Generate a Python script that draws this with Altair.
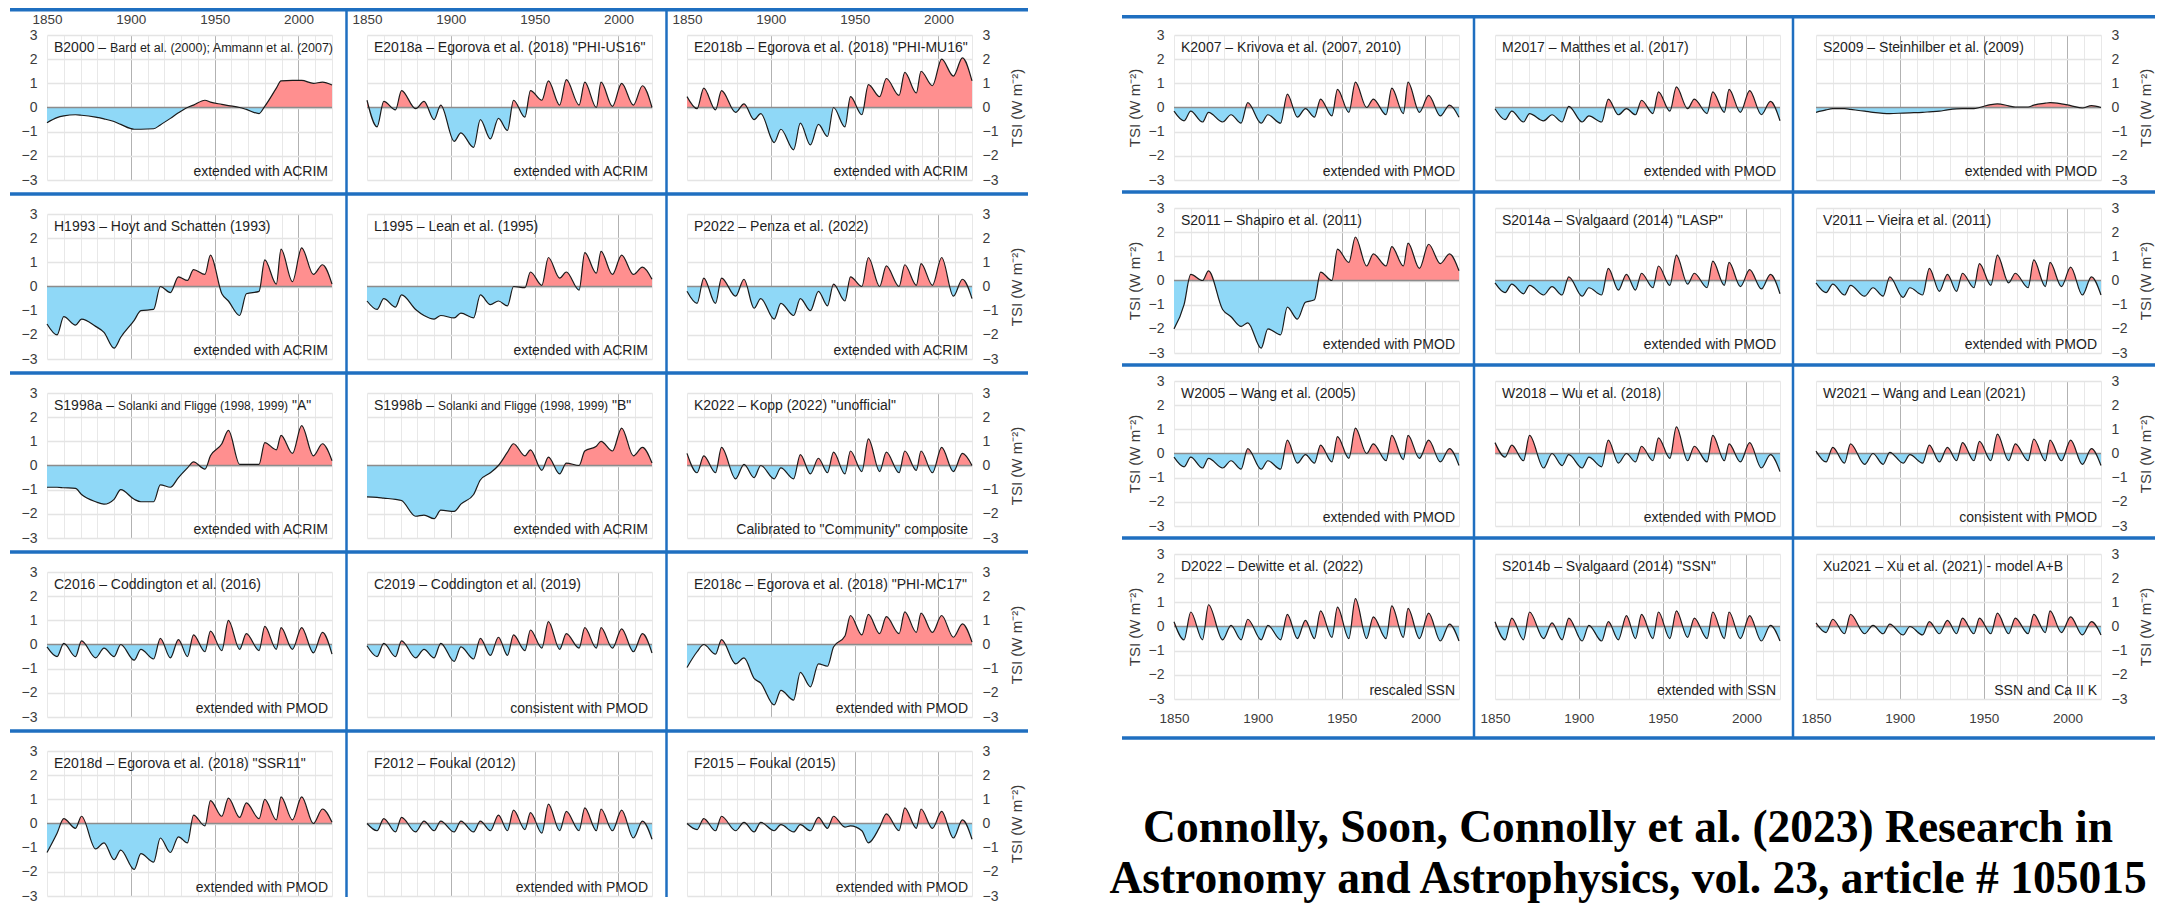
import altair as alt
import pandas as pd

# ---------------- data (TSI anomaly, W m-2, read at solar-cycle minima / maxima) ----------------
YEARS = [1850, 1856, 1860, 1867, 1870.6, 1879, 1884, 1890,
         1894, 1902, 1906, 1913.6, 1917.6, 1923.6, 1928.4, 1933.8,
         1937.4, 1944.2, 1947.5, 1954.3, 1958.2, 1964.9, 1968.9, 1976.5,
         1979.9, 1986.8, 1989.6, 1996.4, 2001.9, 2008.9, 2014.3, 2020]
X_TICKS = [1850, 1860, 1870, 1880, 1890, 1900, 1910, 1920, 1930, 1940,
           1950, 1960, 1970, 1980, 1990, 2000, 2010, 2020]
Y_TICKS = [-3, -2, -1, 0, 1, 2, 3]

B2000 = [-0.63, -0.42, -0.35, -0.3, -0.32, -0.4, -0.47, -0.58,
         -0.7, -0.9, -0.9, -0.88, -0.72, -0.45, -0.22, 0.0,
         0.1, 0.3, 0.22, 0.13, 0.08, 0.0, -0.08, -0.25,
         0.05, 0.8, 1.1, 1.12, 1.12, 1.0, 1.05, 0.93]
E2018a = [0.3, -0.8, 0.25, -0.1, 0.7, -0.05, 0.25, -0.5,
          0.1, -1.4, -1.05, -1.65, -0.5, -1.3, -0.45, -0.95,
          0.3, -0.4, 0.7, 0.3, 1.1, 0.1, 1.15, 0.1,
          1.05, 0.0, 1.05, 0.05, 1.0, 0.1, 0.9, 0.0]
E2018b = [0.45, -0.05, 0.8, -0.1, 0.7, -0.2, 0.15, -0.5,
          -0.25, -1.45, -0.9, -1.75, -0.65, -1.55, -0.7, -1.2,
          0.0, -0.8, 0.45, -0.3, 0.95, 0.45, 1.2, 0.5,
          1.45, 0.6, 1.5, 0.9, 2.0, 1.3, 2.05, 1.1]
H1993 = [-1.55, -2.0, -1.25, -1.6, -1.35, -1.65, -1.9, -2.55,
         -2.1, -1.4, -1.0, -0.95, 0.0, -0.25, 0.4, 0.25,
         0.7, 0.5, 1.3, -0.3, -0.6, -1.2, -0.3, -0.2,
         1.1, 0.1, 1.55, 0.2, 1.6, 0.5, 0.9, 0.1]
L1995 = [-0.6, -0.95, -0.5, -0.85, -0.35, -0.95, -1.2, -1.35,
         -1.2, -1.3, -1.1, -1.3, -0.35, -0.75, -0.6, -0.8,
         0.0, -0.05, 0.6, 0.05, 1.2, 0.35, 0.6, -0.15,
         1.4, 0.55, 1.45, 0.5, 1.3, 0.5, 0.8, 0.3]
P2022 = [-0.2, -0.7, 0.35, -0.7, 0.35, -0.4, 0.3, -0.9,
         -0.5, -1.35, -0.7, -1.2, -0.5, -1.0, -0.2, -0.8,
         0.1, -0.6, 0.4, 0.0, 1.2, 0.0, 0.85, 0.0,
         0.9, 0.05, 0.95, 0.05, 1.2, -0.4, 0.3, -0.5]
S1998a = [-0.9, -0.9, -0.92, -0.95, -1.2, -1.5, -1.6, -1.4,
          -1.0, -1.4, -1.5, -1.5, -0.8, -0.9, -0.5, -0.1,
          0.15, -0.15, 0.4, 0.9, 1.45, 0.05, 0.05, 0.05,
          0.95, 0.65, 1.25, 0.5, 1.65, 0.4, 0.9, 0.2]
S1998b = [-1.3, -1.32, -1.35, -1.4, -1.45, -2.1, -2.05, -2.2,
          -1.85, -1.9, -1.6, -1.2, -0.6, -0.3, 0.0, 0.55,
          0.9, 0.4, 0.65, -0.2, 0.35, -0.35, 0.1, 0.0,
          0.6, 0.8, 1.0, 0.6, 1.55, 0.4, 0.75, 0.1]
K2022 = [0.5, -0.3, 0.4, -0.3, 0.75, -0.55, 0.05, -0.5,
         0.0, -0.55, -0.1, -0.55, 0.45, -0.35, 0.3, -0.3,
         0.55, -0.35, 0.6, -0.25, 1.1, -0.25, 0.55, -0.3,
         0.6, -0.2, 0.6, -0.3, 0.75, -0.25, 0.5, 0.0]
C2016 = [-0.1, -0.5, 0.05, -0.5, 0.15, -0.55, -0.15, -0.5,
         0.0, -0.65, -0.2, -0.6, 0.25, -0.55, 0.2, -0.5,
         0.4, -0.3, 0.55, -0.25, 1.0, -0.2, 0.45, -0.25,
         0.75, -0.2, 0.7, -0.2, 0.7, -0.35, 0.5, -0.4]
C2019 = [-0.05, -0.5, 0.05, -0.5, 0.15, -0.55, -0.2, -0.55,
         0.05, -0.7, -0.1, -0.6, 0.25, -0.45, 0.3, -0.45,
         0.4, -0.25, 0.6, -0.15, 0.95, -0.2, 0.45, -0.15,
         0.7, -0.15, 0.7, -0.15, 0.65, -0.3, 0.45, -0.35]
E2018c = [-0.95, -0.3, 0.0, -0.4, 0.2, -0.8, -0.55, -1.4,
          -1.6, -2.5, -1.9, -2.3, -1.15, -1.75, -0.8, -0.9,
          -0.1, 0.35, 1.2, 0.4, 1.25, 0.45, 1.15, 0.45,
          1.35, 0.5, 1.3, 0.5, 1.2, 0.3, 0.85, 0.1]
E2018d = [-1.2, -0.4, 0.2, -0.2, 0.3, -1.05, -0.8, -1.5,
          -1.1, -1.9, -1.25, -1.6, -0.6, -1.2, -0.55, -0.8,
          0.35, -0.1, 0.95, 0.3, 1.05, 0.25, 0.85, 0.2,
          1.0, 0.15, 1.1, 0.15, 1.1, 0.0, 0.6, 0.05]
F2012 = [0.0, -0.3, 0.2, -0.35, 0.25, -0.35, 0.1, -0.3,
         0.1, -0.35, 0.1, -0.35, 0.1, -0.3, 0.35, -0.3,
         0.55, -0.25, 0.45, -0.4, 0.8, -0.3, 0.5, -0.3,
         0.65, -0.3, 0.6, -0.3, 0.55, -0.6, 0.1, -0.65]
F2015 = [0.0, -0.25, 0.2, -0.3, 0.3, -0.3, 0.05, -0.35,
         0.05, -0.3, -0.05, -0.35, -0.05, -0.3, 0.25, -0.2,
         0.3, -0.15, -0.1, -0.3, -0.8, -0.15, 0.4, -0.3,
         0.65, -0.2, 0.6, -0.2, 0.5, -0.6, 0.15, -0.65]
K2007 = [-0.15, -0.55, -0.15, -0.6, -0.2, -0.6, -0.3, -0.65,
         0.2, -0.65, -0.3, -0.65, 0.55, -0.4, -0.05, -0.4,
         0.35, -0.35, 0.75, -0.2, 1.05, 0.0, 0.35, -0.3,
         0.8, -0.25, 1.05, -0.2, 0.5, -0.35, 0.1, -0.4]
M2017 = [-0.05, -0.5, -0.15, -0.6, -0.25, -0.55, -0.3, -0.6,
         0.05, -0.6, -0.35, -0.6, 0.35, -0.3, -0.05, -0.3,
         0.3, -0.25, 0.65, -0.15, 0.85, -0.05, 0.35, -0.25,
         0.65, -0.2, 0.75, -0.2, 0.7, -0.3, 0.25, -0.55]
S2009 = [-0.2, -0.1, -0.05, -0.05, -0.08, -0.15, -0.2, -0.24,
         -0.25, -0.23, -0.22, -0.2, -0.18, -0.15, -0.1, -0.06,
         -0.05, -0.05, 0.0, 0.12, 0.15, 0.07, 0.02, 0.02,
         0.1, 0.18, 0.2, 0.15, 0.08, -0.02, 0.08, 0.0]
S2011 = [-2.0, -1.0, 0.25, 0.0, 0.4, -1.2, -1.5, -1.9,
         -1.75, -2.8, -2.0, -2.25, -1.1, -1.6, -0.9, -0.8,
         0.35, 0.0, 1.3, 0.75, 1.8, 0.6, 1.1, 0.6,
         1.4, 0.6, 1.55, 0.5, 1.5, 0.7, 1.1, 0.4]
S2014a = [-0.1, -0.5, -0.15, -0.55, -0.2, -0.6, -0.25, -0.6,
          0.15, -0.65, -0.3, -0.6, 0.5, -0.4, 0.25, -0.4,
          0.3, -0.3, 0.6, -0.2, 1.05, -0.15, 0.3, -0.3,
          0.8, -0.2, 0.75, -0.25, 0.45, -0.35, 0.25, -0.55]
V2011 = [-0.1, -0.5, -0.15, -0.6, -0.2, -0.65, -0.3, -0.65,
         0.15, -0.7, -0.3, -0.6, 0.5, -0.45, 0.25, -0.45,
         0.3, -0.3, 0.7, -0.2, 1.05, -0.1, 0.3, -0.3,
         0.85, -0.25, 0.75, -0.25, 0.55, -0.6, 0.15, -0.6]
W2005 = [-0.15, -0.55, -0.15, -0.6, -0.2, -0.6, -0.3, -0.65,
         0.2, -0.65, -0.3, -0.65, 0.55, -0.4, -0.05, -0.4,
         0.35, -0.35, 0.7, -0.2, 1.05, 0.0, 0.4, -0.3,
         0.75, -0.25, 0.75, -0.2, 0.55, -0.35, 0.2, -0.5]
W2018 = [0.45, -0.15, 0.35, -0.3, 0.75, -0.6, 0.0, -0.5,
         -0.05, -0.6, -0.15, -0.55, 0.55, -0.4, 0.0, -0.35,
         0.3, -0.3, 0.65, -0.2, 1.1, -0.3, 0.3, -0.35,
         0.75, -0.3, 0.4, -0.35, 0.45, -0.6, -0.05, -0.75]
W2021 = [0.1, -0.35, 0.25, -0.4, 0.4, -0.45, 0.0, -0.45,
         0.05, -0.4, -0.05, -0.4, 0.35, -0.35, 0.25, -0.3,
         0.45, -0.3, 0.5, -0.3, 0.8, -0.3, 0.4, -0.3,
         0.6, -0.3, 0.55, -0.3, 0.55, -0.45, 0.2, -0.5]
D2022 = [0.2, -0.55, 0.6, -0.55, 0.9, -0.55, 0.05, -0.55,
         0.3, -0.55, 0.05, -0.55, 0.5, -0.5, 0.25, -0.5,
         0.65, -0.45, 0.8, -0.5, 1.15, -0.5, 0.4, -0.5,
         0.85, -0.45, 0.75, -0.5, 0.55, -0.6, 0.1, -0.6]
S2014b = [0.2, -0.55, 0.35, -0.55, 0.6, -0.5, 0.15, -0.55,
          0.35, -0.6, 0.05, -0.6, 0.2, -0.55, 0.45, -0.5,
          0.5, -0.5, 0.6, -0.5, 0.65, -0.45, 0.35, -0.5,
          0.6, -0.5, 0.6, -0.5, 0.45, -0.6, 0.05, -0.6]
Xu2021 = [0.15, -0.25, 0.3, -0.3, 0.5, -0.3, 0.05, -0.3,
          0.1, -0.35, 0.0, -0.35, 0.2, -0.3, 0.25, -0.3,
          0.35, -0.3, 0.35, -0.3, 0.55, -0.3, 0.35, -0.3,
          0.5, -0.25, 0.65, -0.25, 0.4, -0.35, 0.2, -0.35]

SERIES = {
    "B2000": B2000, "E2018a": E2018a, "E2018b": E2018b, "H1993": H1993, "L1995": L1995,
    "P2022": P2022, "S1998a": S1998a, "S1998b": S1998b, "K2022": K2022, "C2016": C2016,
    "C2019": C2019, "E2018c": E2018c, "E2018d": E2018d, "F2012": F2012, "F2015": F2015,
    "K2007": K2007, "M2017": M2017, "S2009": S2009, "S2011": S2011, "S2014a": S2014a,
    "V2011": V2011, "W2005": W2005, "W2018": W2018, "W2021": W2021, "D2022": D2022,
    "S2014b": S2014b, "Xu2021": Xu2021,
}

D = "\u2013"
# (series, title pieces (text, font size, x shift), footer)
LEFT_PANELS = [
    ("B2000", [(f"B2000 {D} ", 14, 0), ("Bard et al. (2000); Ammann et al. (2007)", 12.5, 56)], "extended with ACRIM"),
    ("E2018a", [(f"E2018a {D} Egorova et al. (2018) \"PHI-US16\"", 14, 0)], "extended with ACRIM"),
    ("E2018b", [(f"E2018b {D} Egorova et al. (2018) \"PHI-MU16\"", 14, 0)], "extended with ACRIM"),
    ("H1993", [(f"H1993 {D} Hoyt and Schatten (1993)", 14, 0)], "extended with ACRIM"),
    ("L1995", [(f"L1995 {D} Lean et al. (1995)", 14, 0)], "extended with ACRIM"),
    ("P2022", [(f"P2022 {D} Penza et al. (2022)", 14, 0)], "extended with ACRIM"),
    ("S1998a", [(f"S1998a {D} ", 14, 0), ("Solanki and Fligge (1998, 1999)", 12, 64), ("\"A\"", 14, 238)], "extended with ACRIM"),
    ("S1998b", [(f"S1998b {D} ", 14, 0), ("Solanki and Fligge (1998, 1999)", 12, 64), ("\"B\"", 14, 238)], "extended with ACRIM"),
    ("K2022", [(f"K2022 {D} Kopp (2022) \"unofficial\"", 14, 0)], "Calibrated to \"Community\" composite"),
    ("C2016", [(f"C2016 {D} Coddington et al. (2016)", 14, 0)], "extended with PMOD"),
    ("C2019", [(f"C2019 {D} Coddington et al. (2019)", 14, 0)], "consistent with PMOD"),
    ("E2018c", [(f"E2018c {D} Egorova et al. (2018) \"PHI-MC17\"", 14, 0)], "extended with PMOD"),
    ("E2018d", [(f"E2018d {D} Egorova et al. (2018) \"SSR11\"", 14, 0)], "extended with PMOD"),
    ("F2012", [(f"F2012 {D} Foukal (2012)", 14, 0)], "extended with PMOD"),
    ("F2015", [(f"F2015 {D} Foukal (2015)", 14, 0)], "extended with PMOD"),
]
RIGHT_PANELS = [
    ("K2007", [(f"K2007 {D} Krivova et al. (2007, 2010)", 14, 0)], "extended with PMOD"),
    ("M2017", [(f"M2017 {D} Matthes et al. (2017)", 14, 0)], "extended with PMOD"),
    ("S2009", [(f"S2009 {D} Steinhilber et al. (2009)", 14, 0)], "extended with PMOD"),
    ("S2011", [(f"S2011 {D} Shapiro et al. (2011)", 14, 0)], "extended with PMOD"),
    ("S2014a", [(f"S2014a {D} Svalgaard (2014) \"LASP\"", 14, 0)], "extended with PMOD"),
    ("V2011", [(f"V2011 {D} Vieira et al. (2011)", 14, 0)], "extended with PMOD"),
    ("W2005", [(f"W2005 {D} Wang et al. (2005)", 14, 0)], "extended with PMOD"),
    ("W2018", [(f"W2018 {D} Wu et al. (2018)", 14, 0)], "extended with PMOD"),
    ("W2021", [(f"W2021 {D} Wang and Lean (2021)", 14, 0)], "consistent with PMOD"),
    ("D2022", [(f"D2022 {D} Dewitte et al. (2022)", 14, 0)], "rescaled SSN"),
    ("S2014b", [(f"S2014b {D} Svalgaard (2014) \"SSN\"", 14, 0)], "extended with SSN"),
    ("Xu2021", [(f"Xu2021 {D} Xu et al. (2021) - model A+B", 14, 0)], "SSN and Ca II K"),
]
CITATION = ["Connolly, Soon, Connolly et al. (2023) Research in",
            "Astronomy and Astrophysics, vol. 23, article # 105015"]
Y_TITLE = "TSI (W m\u207b\u00b2)"

# ---------------- style ----------------
W, H = 285, 145
FONT = "Liberation Sans, Arial, Helvetica, sans-serif"
SERIF = "Liberation Serif, Times New Roman, serif"
RED = "#ff8f8f"
BLUE = "#8fd8f7"
SEP = "#1f6fc0"
LINE_COL = "#1a1a1a"
ZERO_COL = "#8c8c8c"
TXT = "#1e1e1e"
LAB = "#3c3c3c"
GRID_X = {"condition": {"test": "datum.value == 1900 || datum.value == 1950 || datum.value == 2000",
                        "value": "#b2b2b2"}, "value": "#e8e8e8"}

ONE = pd.DataFrame({"k": [0]})
ZERO_ROW = pd.DataFrame({"z": [0.0]})


def x_axis(block, r):
    show = (block == "L" and r == 0) or (block == "R" and r == 3)
    kw = dict(values=X_TICKS, grid=True, gridColor=GRID_X, gridWidth=1, domain=False,
              ticks=False, tickSize=0, title=None, labels=show,
              orient="top" if block == "L" else "bottom")
    if show:
        kw.update(labelExpr="datum.value % 50 == 0 ? datum.label : ''", format="d",
                  labelFont=FONT, labelFontSize=13.5, labelColor=LAB,
                  labelPadding=9 if block == "L" else 12, labelFlush=False, labelOverlap=False)
    return alt.Axis(**kw)


def y_axis(block, c):
    kw = dict(values=Y_TICKS, grid=True, gridColor="#e4e4e4", gridWidth=1.5, domain=False,
              ticks=False, tickSize=0)
    if c == 1:
        kw.update(labels=False, title=None)
    else:
        kw.update(orient="left" if c == 0 else "right", labels=True, format="d",
                  labelFont=FONT, labelFontSize=14, labelColor=LAB, labelPadding=10,
                  labelFlush=False, labelOverlap=False)
        if block == "R" or c == 2:
            kw.update(title=Y_TITLE, titleFont=FONT, titleFontSize=15, titleFontWeight="normal",
                      titleColor=LAB, titleAngle=270, titleX=-40 if c == 0 else 44,
                      titleY=H / 2, titleAlign="center", titleBaseline="middle")
        else:
            kw.update(title=None)
    return alt.Axis(**kw)


def separators(block, r, c):
    segs = []
    if block == "L":
        ytop = -25.25 if r == 0 else -20
        if c == 0:
            segs.append((-37, 981, ytop, ytop, 3.5))
        if c in (0, 1):
            ybot = 159 if r < 4 else 146
            segs.append((W + 14.5, W + 14.5, ytop, ybot, 2.5))
    else:
        ytop = -18.25 if r == 0 else -16
        if c == 0:
            segs.append((-52, 981, ytop, ytop, 3.5))
            if r == 3:
                segs.append((-52, 981, 184, 184, 3.5))
        if c in (0, 1):
            x = W + 15 if c == 0 else W + 13
            ybot = 157 if r < 3 else 184
            segs.append((x, x, ytop, ybot, 2.5))
    return segs


def make_panel(key, parts, footer, block, r, c):
    vals = SERIES[key]
    df = pd.DataFrame({"year": YEARS, "tsi": vals, "z": [0.0] * len(YEARS)})
    hi = max(max(vals), 0.0)
    lo = min(min(vals), 0.0)
    t = hi / (hi - lo) if hi > lo else 1.0
    grad = alt.LinearGradient(
        gradient="linear", x1=0, x2=0, y1=0, y2=1,
        stops=[alt.GradientStop(color=RED, offset=0), alt.GradientStop(color=RED, offset=t),
               alt.GradientStop(color=BLUE, offset=t), alt.GradientStop(color=BLUE, offset=1)])
    xs = alt.Scale(domain=[1850, 2020], nice=False, zero=False)
    ys = alt.Scale(domain=[-3, 3], nice=False, zero=False)
    xa = x_axis(block, r)
    ya = y_axis(block, c)
    X = alt.X("year:Q", scale=xs, axis=xa)
    Y = alt.Y("tsi:Q", scale=ys, axis=ya)

    layers = [
        alt.Chart(df).mark_area(color=grad, interpolate="monotone").encode(x=X, y=Y, y2=alt.Y2("z:Q")),
        alt.Chart(ZERO_ROW).mark_rule(color=ZERO_COL, strokeWidth=1.6).encode(
            y=alt.Y("z:Q", scale=ys, axis=ya)),
        alt.Chart(df).mark_line(color=LINE_COL, strokeWidth=1.2, interpolate="monotone").encode(x=X, y=Y),
    ]
    for text, size, dx in parts:
        layers.append(alt.Chart(ONE).mark_text(
            text=text, font=FONT, fontSize=size, color=TXT, align="left", baseline="alphabetic"
        ).encode(x=alt.value(7 + dx), y=alt.value(17)))
    layers.append(alt.Chart(ONE).mark_text(
        text=footer, font=FONT, fontSize=14, color=TXT, align="right", baseline="alphabetic"
    ).encode(x=alt.value(W - 4), y=alt.value(H - 4)))
    for x1, x2, y1, y2, sw in separators(block, r, c):
        layers.append(alt.Chart(ONE).mark_rule(color=SEP, strokeWidth=sw).encode(
            x=alt.value(x1), x2=alt.value(x2), y=alt.value(y1), y2=alt.value(y2)))
    if block == "R" and r == 3 and c == 1:
        for i, line in enumerate(CITATION):
            layers.append(alt.Chart(ONE).mark_text(
                text=line, font=SERIF, fontSize=45.5, fontWeight="bold", color="#000000",
                align="center", baseline="alphabetic"
            ).encode(x=alt.value(133), y=alt.value(288 + 51 * i)))
    return alt.layer(*layers).properties(width=W, height=H)


left_charts = [make_panel(k, p, f, "L", i // 3, i % 3) for i, (k, p, f) in enumerate(LEFT_PANELS)]
right_charts = [make_panel(k, p, f, "R", i // 3, i % 3) for i, (k, p, f) in enumerate(RIGHT_PANELS)]

left_grid = alt.concat(*left_charts, columns=3, spacing=alt.RowColnumber(row=34, column=35), bounds="flush")
right_grid = alt.concat(*right_charts, columns=3, spacing=alt.RowColnumber(row=28, column=36), bounds="flush")

chart = alt.hconcat(left_grid, right_grid, spacing=78).properties(padding=0).configure_view(strokeWidth=0)

chart.save("out.html", embed_options={"renderer": "svg", "actions": False})
